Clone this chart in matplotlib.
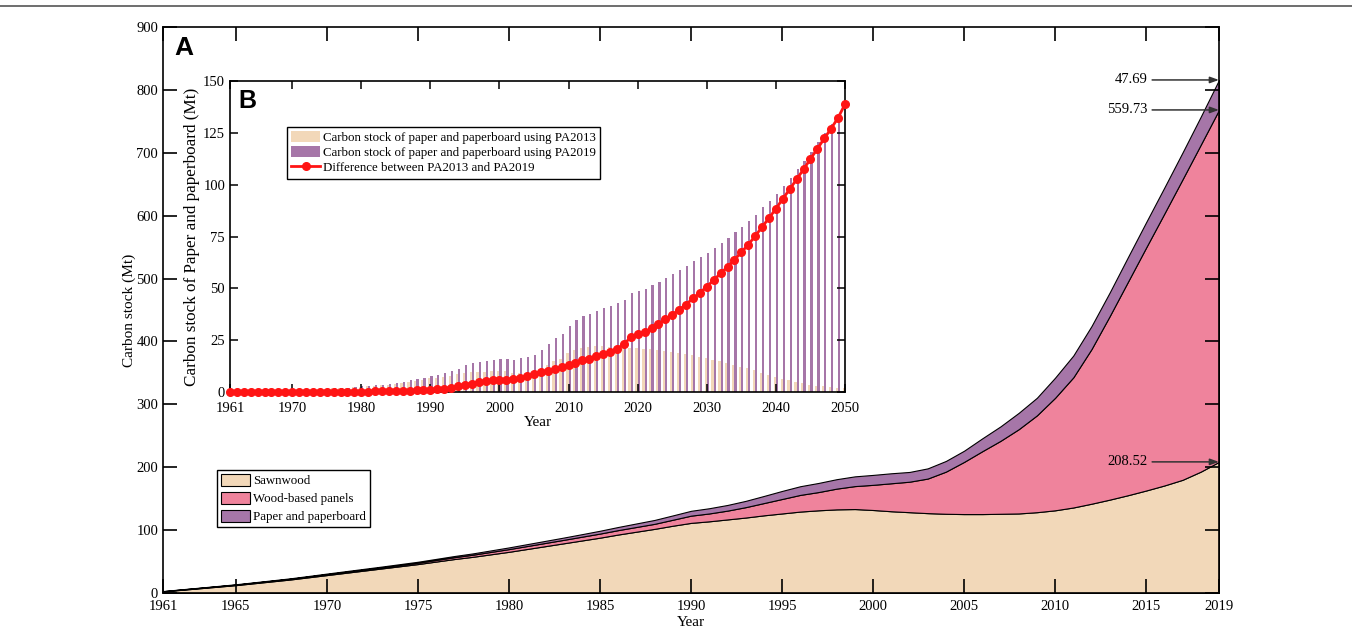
import numpy as np
import matplotlib
matplotlib.use("Agg")
from matplotlib import pyplot as plt
from matplotlib.lines import Line2D

plt.rcParams['font.family'] = ['Liberation Serif', 'DejaVu Serif']
plt.rcParams['axes.linewidth'] = 1.2

# ---- panel A: stacked carbon stock, 1961-2019 ----
years = np.arange(1961, 2020)
sawnwood = [2.5, 5, 7.5, 10, 12.5, 15.5, 18.5, 21.5, 25, 28.5,
            32, 35.5, 39, 42.5, 46, 50, 54, 57.5, 61.5, 65.5,
            70, 74.5, 79, 83.5, 88, 93, 97.5, 102, 107, 111.5,
            114, 117, 120, 123.5, 126.5, 129.5, 131.5, 133, 133.5, 132,
            130, 128.5, 127, 126, 125.5, 125.5, 126, 126.5, 128.5, 131.5,
            136, 142, 148.5, 155.5, 163, 171, 180, 193, 208.52]
panels = [0.3, 0.5, 0.6, 0.7, 0.8, 0.9, 1.0, 1.1, 1.2, 1.4,
          1.5, 1.6, 1.7, 1.9, 2.1, 2.5, 2.9, 3.3, 3.8, 4.3,
          4.7, 5.1, 5.5, 6.0, 6.5, 7.0, 7.5, 8.0, 9.5, 11.5,
          12.5, 14.0, 16.5, 19.5, 23.0, 26.5, 29.0, 33.0, 36.5, 40.0,
          44.5, 48.5, 55.0, 67.0, 83.0, 100.0, 116.0, 134.0, 154.0, 179.0,
          207.0, 246.0, 292.0, 339.5, 386.5, 432.5, 478.0, 520.0, 559.73]

# ---- panel B: paper and paperboard, 1961-2050 ----
years_b = np.arange(1961, 2051)
pa2019 = [0.3, 0.35, 0.4, 0.5, 0.6, 0.65, 0.7, 0.8, 0.9, 1.0,
          1.1, 1.2, 1.3, 1.45, 1.6, 1.75, 1.9, 2.1, 2.4, 2.7,
          3.0, 3.3, 3.6, 4.0, 4.5, 5.0, 5.6, 6.2, 6.9, 7.7,
          8.3, 9.0, 10.0, 11.3, 12.8, 13.8, 14.5, 15.0, 15.5, 15.8,
          15.9, 15.5, 16.2, 17.0, 17.8, 20.5, 23.0, 26.0, 28.0, 32.0,
          34.7, 36.6, 37.6, 39.2, 40.3, 41.4, 42.7, 44.6, 47.69, 48.8,
          49.8, 51.4, 53.3, 55.0, 56.8, 58.8, 60.7, 63.0, 64.9, 67.1,
          69.5, 72.0, 74.4, 77.0, 79.7, 82.5, 85.6, 89.0, 92.2, 95.7,
          99.6, 103.4, 107.4, 111.6, 116.0, 120.4, 125.0, 129.4, 134.3, 140.5]
pa2013 = [0.3, 0.35, 0.4, 0.5, 0.6, 0.65, 0.7, 0.8, 0.9, 1.0,
          1.1, 1.2, 1.3, 1.4, 1.55, 1.7, 1.85, 2.0, 2.3, 2.55,
          2.8, 3.05, 3.3, 3.6, 4.0, 4.4, 4.9, 5.4, 6.0, 6.7,
          7.0, 7.4, 7.9, 8.5, 9.4, 9.7, 9.6, 9.7, 9.9, 10.0,
          10.0, 9.3, 9.4, 9.2, 9.0, 11.0, 13.0, 15.0, 16.0, 19.0,
          20.5, 21.3, 21.7, 22.0, 22.0, 21.9, 21.8, 21.5, 21.3, 21.0,
          20.8, 20.6, 20.4, 20.0, 19.5, 19.0, 18.5, 17.8, 17.0, 16.3,
          15.5, 14.8, 14.0, 13.2, 12.3, 11.4, 10.4, 9.4, 8.3, 7.3,
          6.4, 5.6, 4.8, 4.2, 3.6, 3.1, 2.7, 2.3, 2.0, 1.7]
paper = pa2019[:len(years)]
difference = np.array(pa2019) - np.array(pa2013)

c_sawn = '#F2D8B9'
c_panel = '#EF839C'
c_paper = '#A676A8'
c_red = '#FF1414'

fig = plt.figure(figsize=(13.52, 6.33), dpi=100)
fig.add_artist(Line2D([0, 1], [1 - 6 / 633, 1 - 6 / 633], color='#555555', lw=1.2))

ax = fig.add_axes([0.1206, 0.0632, 0.781, 0.894])
ax.stackplot(years, sawnwood, panels, paper,
             colors=[c_sawn, c_panel, c_paper],
             labels=['Sawnwood', 'Wood-based panels', 'Paper and paperboard'],
             edgecolor='k', linewidth=0.8)
ax.set_xlim(1961, 2019)
ax.set_ylim(0, 900)
ax.set_xticks([1961, 1965, 1970, 1975, 1980, 1985, 1990, 1995, 2000, 2005, 2010, 2015, 2019])
ax.set_yticks(np.arange(0, 901, 100))
ax.tick_params(direction='in', top=True, right=True, length=10, width=1.2, labelsize=10.5)
ax.tick_params(axis='x', pad=5)
ax.set_xlabel('Year', fontsize=11, labelpad=2)
ax.set_ylabel('Carbon stock (Mt)', fontsize=11, labelpad=0)
ax.legend(loc='upper left', bbox_to_anchor=(0.0511, 0.2173), fontsize=9.3,
          frameon=True, fancybox=False, edgecolor='k', framealpha=1,
          borderaxespad=0, borderpad=0.3, handlelength=2.27, handleheight=1.1,
          labelspacing=0.33, handletextpad=0.25)
ax.text(0.011, 0.985, 'A', transform=ax.transAxes, fontsize=19, fontweight='bold',
        family='Liberation Sans', va='top', ha='left')

top = np.array(sawnwood) + np.array(panels) + np.array(paper)
mid = np.array(sawnwood) + np.array(panels)
arrow = dict(arrowstyle='-|>,head_length=0.5,head_width=0.18', color='#333333',
             lw=1.1, shrinkA=1, shrinkB=0)
for label, yv in [('47.69', top[-1]), ('559.73', mid[-1]), ('208.52', sawnwood[-1])]:
    ax.annotate(label, xy=(2019, yv), xytext=(2015.1, yv), ha='right', va='center',
                fontsize=10.5, arrowprops=arrow)

# ---- inset B ----
axb = fig.add_axes([0.1701, 0.3807, 0.4549, 0.4913])
b1 = axb.bar(years_b - 0.17, pa2013, width=0.32, color=c_sawn,
             label='Carbon stock of paper and paperboard using PA2013')
b2 = axb.bar(years_b + 0.15, pa2019, width=0.32, color=c_paper,
             label='Carbon stock of paper and paperboard using PA2019')
ln, = axb.plot(years_b, difference, '-o', color=c_red, lw=2, ms=5.5,
               label='Difference between PA2013 and PA2019', clip_on=False, zorder=3)
axb.set_xlim(1961, 2050)
axb.set_ylim(0, 150)
axb.set_xticks([1961, 1970, 1980, 1990, 2000, 2010, 2020, 2030, 2040, 2050])
axb.set_yticks(np.arange(0, 151, 25))
axb.tick_params(direction='in', top=True, right=True, length=6, width=1.1, labelsize=10.5)
axb.tick_params(axis='x', pad=7)
axb.set_xlabel('Year', fontsize=11, labelpad=1)
axb.set_ylabel('Carbon stock of Paper and paperboard (Mt)', fontsize=12.3, labelpad=2)
axb.legend(handles=[b1, b2, ln], loc='upper left', bbox_to_anchor=(0.092, 0.853),
           fontsize=9.25, frameon=True, fancybox=False, edgecolor='k', framealpha=1,
           borderaxespad=0, borderpad=0.35, handlelength=2.27, handleheight=0.94,
           labelspacing=0.17, handletextpad=0.2)
axb.text(0.013, 0.975, 'B', transform=axb.transAxes, fontsize=18, fontweight='bold',
         family='Liberation Sans', va='top', ha='left')

fig.savefig('out.png', dpi=100)
